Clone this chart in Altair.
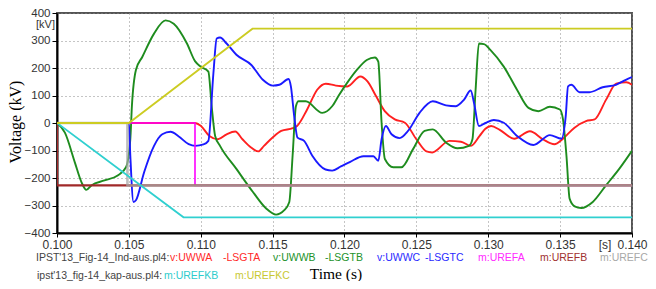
import altair as alt
import pandas as pd

# ---------------- data (time in s, voltage in kV) ----------------
uwwa_t = [0.1000, 0.1096, 0.1100, 0.1106, 0.1112, 0.1118, 0.1124, 0.1129, 0.1135, 0.1140,
          0.1144, 0.1150, 0.1156, 0.1164, 0.1167, 0.1174, 0.1181, 0.1187, 0.1194, 0.1202,
          0.1211, 0.1216, 0.1222, 0.1228, 0.1235, 0.1242, 0.1250, 0.1257, 0.1261, 0.1273,
          0.1281, 0.1288, 0.1294, 0.1298, 0.1302, 0.1308, 0.1318, 0.1329, 0.1338, 0.1346,
          0.1352, 0.1360, 0.1368, 0.1374, 0.1382, 0.1389, 0.1396, 0.1400]
uwwa_v = [0, 0, -10, -47, -59, -41, -31, -59, -89, -103,
          -83, -53, -29, -19, -11, 49, 121, 143, 136, 133,
          169, 151, 97, 43, 13, 1, -59, -103, -107, -65,
          -68, -83, -47, -21, -11, -25, -57, -30, -59, -77,
          -57, -17, 7, 13, 85, 143, 148, 139]

uwwb_t = [0.1000, 0.10055, 0.10124, 0.10170, 0.10204, 0.10239, 0.10330, 0.10422, 0.10480, 0.10510,
          0.10521, 0.10549, 0.10594, 0.10675, 0.10755, 0.10812, 0.10904, 0.10960, 0.11000, 0.11053,
          0.11076, 0.11100, 0.11134, 0.11248, 0.11363, 0.11455, 0.11524, 0.11581, 0.11616, 0.11639,
          0.11662, 0.11680, 0.11730, 0.11845, 0.11914, 0.11960, 0.12017, 0.12086, 0.12155, 0.12212,
          0.12235, 0.12258, 0.12281, 0.12339, 0.12396, 0.12477, 0.12557, 0.12614, 0.12706, 0.12786,
          0.12866, 0.12890, 0.12912, 0.12935, 0.12970, 0.13016, 0.13108, 0.13200, 0.13280, 0.13348,
          0.13429, 0.13498, 0.13520, 0.13544, 0.13566, 0.13601, 0.13647, 0.13727, 0.13819, 0.13911,
          0.14000]
uwwb_v = [0, -35, -143, -215, -243, -227, -209, -191, -161, -59,
          61, 193, 241, 325, 373, 361, 289, 225, 205, 187,
          61, -47, -83, -167, -251, -311, -333, -317, -287, -119,
          61, 79, 79, 37, 61, 100, 145, 193, 229, 238,
          223, 1, -131, -161, -161, -95, -29, -23, -71, -92,
          -83, -59, 121, 289, 287, 265, 205, 121, 55, 43,
          59, 49, 13, -119, -275, -303, -309, -287, -227, -167,
          -101]

uwwc_t = [0.1000, 0.1050, 0.10510, 0.10532, 0.10549, 0.10606, 0.10675, 0.10732, 0.10790, 0.10847,
          0.10916, 0.10962, 0.11019, 0.11053, 0.11088, 0.11111, 0.11134, 0.11180, 0.11248, 0.11352,
          0.11432, 0.11501, 0.11547, 0.11611, 0.11627, 0.11650, 0.11673, 0.11719, 0.11776, 0.11868,
          0.11914, 0.11975, 0.12040, 0.12132, 0.12201, 0.12235, 0.12258, 0.12288, 0.12327, 0.12384,
          0.12442, 0.12522, 0.12614, 0.12706, 0.12775, 0.12832, 0.12878, 0.12901, 0.12935, 0.12981,
          0.13039, 0.13108, 0.13200, 0.13314, 0.13429, 0.13509, 0.13539, 0.13555, 0.13578, 0.13635,
          0.13704, 0.13796, 0.13888, 0.13957, 0.14000]
uwwc_v = [0, 0, -119, -287, -281, -179, -83, -41, -32, -49,
          -77, -83, -78, -65, 181, 307, 311, 289, 248, 211,
          157, 136, 139, 160, 133, 25, -53, -65, -119, -169,
          -173, -158, -141, -121, -121, -137, -59, -11, -41, -55,
          -29, 37, 79, 64, 61, 85, 118, 73, -11, 0,
          11, 1, -47, -80, -44, -57, 25, 133, 139, 112,
          112, 130, 139, 157, 167]

urefa_t = [0.1000, 0.1096, 0.1096, 0.1400]
urefa_v = [0, 0, -227, -227]
urefb_t = [0.1000, 0.1000, 0.1400]
urefb_v = [0, -227, -227]
urefc_t = [0.1000, 0.1049, 0.1049, 0.1400]
urefc_v = [0, 0, -227, -227]
urefkb_t = [0.1000, 0.1088, 0.1400]
urefkb_v = [0, -343, -343]
urefkc_t = [0.1000, 0.1050, 0.1136, 0.1400]
urefkc_v = [0, 0, 343, 343]

x_ticks = [0.100, 0.105, 0.110, 0.115, 0.120, 0.125, 0.130, 0.135, 0.140]
y_ticks = [-400, -300, -200, -100, 0, 100, 200, 300, 400]

legend_row1 = [("IPST'13_Fig-14_Ind-aus.pl4:", "#444444"),
               ("v:UWWA", "#ff2a2a"), ("-LSGTA", "#ff2a2a"),
               ("v:UWWB", "#22922a"), ("-LSGTB", "#22922a"),
               ("v:UWWC", "#2a2aff"), ("-LSGTC", "#2a2aff"),
               ("m:UREFA", "#ff2aff"), ("m:UREFB", "#a03030"), ("m:UREFC", "#a8a8a8")]
legend_row2 = [("ipst'13_fig-14_kap-aus.pl4:", "#444444"),
               ("m:UREFKB", "#2ecccc"), ("m:UREFKC", "#c8c832")]
row1_x = [-21, 113, 166, 216, 268, 320, 368, 421, 483, 543]
row2_x = [-20, 107, 178]

# ---------------- chart ----------------
x_scale = alt.Scale(domain=[0.100, 0.140], nice=False, zero=False)
y_scale = alt.Scale(domain=[-400, 400], nice=False)
x_axis = alt.Axis(values=x_ticks, format=".3f", title=None, labelFont="Liberation Sans",
                  labelFontSize=12, labelColor="#333333", tickColor="#000000", tickSize=4,
                  domainColor="#000000", domainWidth=2, grid=True, gridDash=[1, 3],
                  gridColor="#8a8a8a", labelPadding=2, labelFlush=False, labelOverlap=False)
y_axis = alt.Axis(values=y_ticks, title=None, labelFont="Liberation Sans",
                  labelFontSize=11.5, labelColor="#333333", tickColor="#000000", tickSize=5,
                  domainColor="#000000", domainWidth=2, grid=True, gridDash=[1, 3],
                  gridColor="#8a8a8a", labelPadding=2, labelFlush=False, labelOverlap=False)

series = [
    (uwwa_t, uwwa_v, "#ff2020", "monotone", 1.9, 1.0),
    (uwwb_t, uwwb_v, "#1e8c1e", "monotone", 1.9, 1.0),
    (uwwc_t, uwwc_v, "#1a1aff", "monotone", 1.9, 1.0),
    (urefa_t, urefa_v, "#ff00ff", "linear", 1.6, 1.0),
    (urefb_t, urefb_v, "#a02828", "linear", 2.2, 1.0),
    (urefc_t, urefc_v, "#a8a8a8", "linear", 2.6, 0.75),
    (urefkb_t, urefkb_v, "#30d0d0", "linear", 1.8, 1.0),
    (urefkc_t, urefkc_v, "#cccc22", "linear", 1.8, 1.0),
]

layers = []
for t, v, col, interp, sw, op in series:
    df = pd.DataFrame({"t": t, "v": v})
    layers.append(
        alt.Chart(df).mark_line(color=col, strokeWidth=sw, interpolate=interp,
                                clip=True, opacity=op).encode(
            x=alt.X("t:Q", scale=x_scale, axis=x_axis),
            y=alt.Y("v:Q", scale=y_scale, axis=y_axis),
        )
    )

dummy = pd.DataFrame({"a": [0]})


def label(text, x, y, color="#333333", size=10.5, font="Liberation Sans", align="left", angle=0):
    kw = dict(text=text, color=color, fontSize=size, font=font, align=align, baseline="middle")
    if angle:
        kw["angle"] = angle
    return alt.Chart(dummy).mark_text(**kw).encode(x=alt.value(x), y=alt.value(y))


for (txt, col), px in zip(legend_row1, row1_x):
    layers.append(label(txt, px, 245, col))
for (txt, col), px in zip(legend_row2, row2_x):
    layers.append(label(txt, px, 262.5, col))

layers.append(label("[kV]", -2, 12, "#333333", 11, align="right"))
layers.append(label("[s]", 548, 232, "#333333", 12, align="center"))
layers.append(label("Voltage (kV)", -41, 109, "#000000", 16, "Liberation Serif", "center", 270))
layers.append(label("Time (s)", 279, 261, "#000000", 15.5, "Liberation Serif", "center"))

chart = alt.layer(*layers).properties(
    width=575, height=220,
    padding={"left": 49, "top": 5, "right": 16, "bottom": 48},
    autosize="none",
).configure_view(stroke="#555555", strokeWidth=2)

chart.save("out.html", embed_options={"renderer": "svg", "actions": False})
